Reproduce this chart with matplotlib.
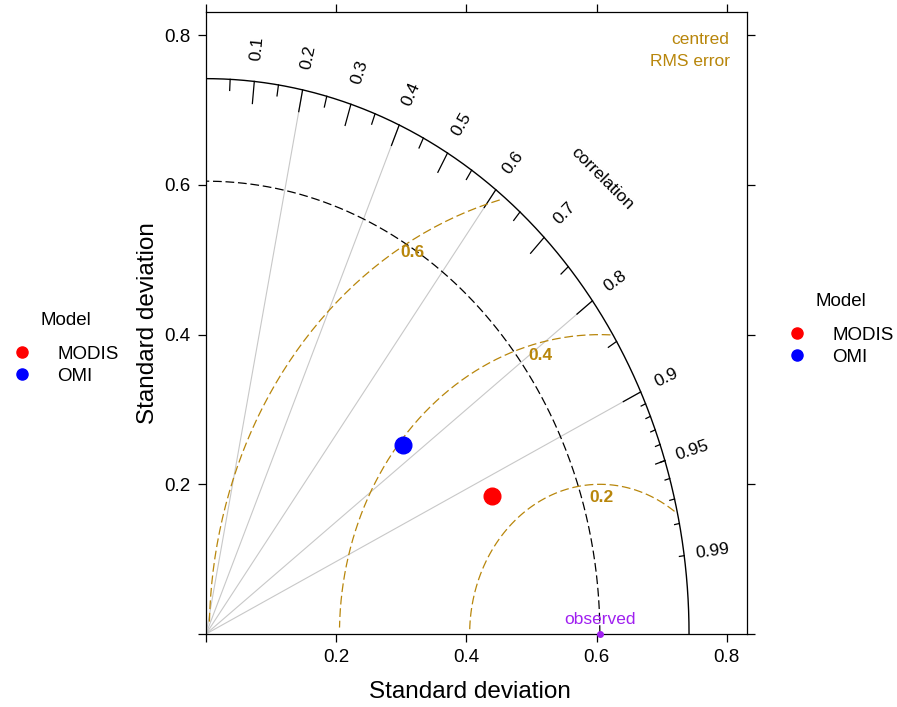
import numpy as np
import matplotlib
matplotlib.use("Agg")
import matplotlib.pyplot as plt
from matplotlib.lines import Line2D
from matplotlib import font_manager

# ---------------- data ----------------
models = ["MODIS", "OMI"]
model_colors = ["#FF0000", "#0000FF"]
model_corr = [0.922, 0.767]
model_sd = [0.477, 0.394]
obs_sd = 0.605
max_sd = 0.742
rms_levels = [0.2, 0.4, 0.6]
corr_grid = [0.2, 0.4, 0.6, 0.8, 0.9]
corr_label_values = [0.1, 0.2, 0.3, 0.4, 0.5, 0.6, 0.7, 0.8, 0.9, 0.95, 0.99]
corr_label_text = ["0.1", "0.2", "0.3", "0.4", "0.5", "0.6", "0.7", "0.8", "0.9", "0.95", "0.99"]
big_ticks = [0.1, 0.2, 0.3, 0.4, 0.5, 0.6, 0.7, 0.8, 0.9]
med_ticks = [0.05, 0.15, 0.25, 0.35, 0.45, 0.55, 0.65, 0.75, 0.85, 0.95]
small_ticks = [0.91, 0.92, 0.93, 0.94, 0.95, 0.96, 0.97, 0.98, 0.99]
axis_ticks = [0.0, 0.2, 0.4, 0.6, 0.8]
axis_tick_labels = ["", "0.2", "0.4", "0.6", "0.8"]

# ---------------- fonts ----------------
def has_font(name):
    try:
        font_manager.findfont(font_manager.FontProperties(family=name), fallback_to_default=False)
        return True
    except Exception:
        return False

fam = [f for f in ["Liberation Sans", "DejaVu Sans"] if has_font(f)]
plt.rcParams["font.family"] = fam

RMS_COL = "#B8860B"
OBS_COL = "#A020F0"

fig = plt.figure(figsize=(8.97, 7.07), dpi=100)
ax = fig.add_axes([206 / 897, 1 - 634 / 707, 541 / 897, 622 / 707])
lim = 1.12 * max_sd
ax.set_xlim(0, lim)
ax.set_ylim(0, lim)

# correlation grid lines
for r in corr_grid:
    t = np.arccos(r)
    ax.plot([0, np.cos(t) * max_sd], [0, np.sin(t) * max_sd], color="#c8c8c8", lw=0.8, zorder=1)

# tick marks on the arc
for vals, frac in [(big_ticks, 0.96), (med_ticks, 0.98), (small_ticks, 0.99)]:
    for r in vals:
        t = np.arccos(r)
        ax.plot([np.cos(t) * frac * max_sd, np.cos(t) * max_sd],
                [np.sin(t) * frac * max_sd, np.sin(t) * max_sd], color="black", lw=0.9, zorder=2)

# outer arc
th = np.linspace(0, np.pi / 2, 300)
ax.plot(np.cos(th) * max_sd, np.sin(th) * max_sd, color="black", lw=1.0, zorder=2)

# observed sd arc
ax.plot(np.cos(th) * obs_sd, np.sin(th) * obs_sd, color="black", lw=0.9,
        linestyle=(0, (7, 3)), zorder=2)

# centred RMS arcs
theta = np.arange(0, np.pi, 0.03)
for k, g in enumerate(rms_levels):
    xc = np.cos(theta) * g + obs_sd
    yc = np.sin(theta) * g
    m = (xc >= 0) & (xc ** 2 + yc ** 2 <= max_sd ** 2)
    ax.plot(xc[m], yc[m], color=RMS_COL, lw=0.9, linestyle=(0, (7, 3)), zorder=2)
    idx = int(np.linspace(45, 70, len(rms_levels) + 1)[k + 1]) - 1
    ax.annotate("%g" % g, (xc[idx], yc[idx]), xytext=(0, -4), textcoords="offset points",
                ha="center", va="top", color=RMS_COL, fontsize=12.5, fontweight="bold", zorder=3)

ax.text(1.1 * max_sd - 0.012, 1.05 * max_sd, "centred\nRMS error", ha="right", va="center",
        color=RMS_COL, fontsize=12.5, linespacing=1.6)

# correlation labels
for r, s in zip(corr_label_values, corr_label_text):
    t = np.arccos(r)
    ax.text(np.cos(t) * 1.06 * max_sd, np.sin(t) * 1.06 * max_sd, s, rotation=np.degrees(t),
            rotation_mode="anchor", ha="center", va="center", fontsize=12.5)
ax.text(0.82 * max_sd, 0.82 * max_sd, "correlation", rotation=-45, rotation_mode="anchor",
        ha="center", va="center", fontsize=12.5)

# observed point
ax.plot([obs_sd], [0], marker="o", ms=4, color=OBS_COL, clip_on=False, zorder=4)
ax.text(obs_sd, 0.019, "observed", color=OBS_COL, fontsize=12.5, ha="center", va="center")

# model points
for name, c, r, s in zip(models, model_colors, model_corr, model_sd):
    t = np.arccos(r)
    ax.plot([s * np.cos(t)], [s * np.sin(t)], marker="o", ms=12, color=c, zorder=5, linestyle="none")

# axes styling
ax.set_xticks(axis_ticks)
ax.set_xticklabels(axis_tick_labels)
ax.set_yticks(axis_ticks)
ax.set_yticklabels(axis_tick_labels)
ax.tick_params(direction="out", length=6, width=0.9, labelsize=13.5, pad=5,
               top=True, right=True, labeltop=False, labelright=False)
for sp in ax.spines.values():
    sp.set_linewidth(0.9)
ax.set_xlabel("Standard deviation", fontsize=17.5, va="center")
ax.set_ylabel("Standard deviation", fontsize=17.5, va="center")
ax.xaxis.set_label_coords((470 - 206) / 541, -(692 - 634) / 622)
ax.yaxis.set_label_coords(-(206 - 148) / 541, 0.5)

# legends (both sides)
handles = [Line2D([], [], marker="o", linestyle="none", color=c, ms=8) for c in model_colors]
for anchor in [(14 / 897, 1 - 312 / 707), (789 / 897, 1 - 293 / 707)]:
    leg = fig.legend(handles, models, title="Model", loc="upper left", bbox_to_anchor=anchor,
                     frameon=False, fontsize=13.5, title_fontsize=13.5, handlelength=0.8,
                     handletextpad=1.5, labelspacing=0.25, borderpad=0, borderaxespad=0)
    leg._legend_box.sep = 12

fig.savefig("out.png", dpi=100)
